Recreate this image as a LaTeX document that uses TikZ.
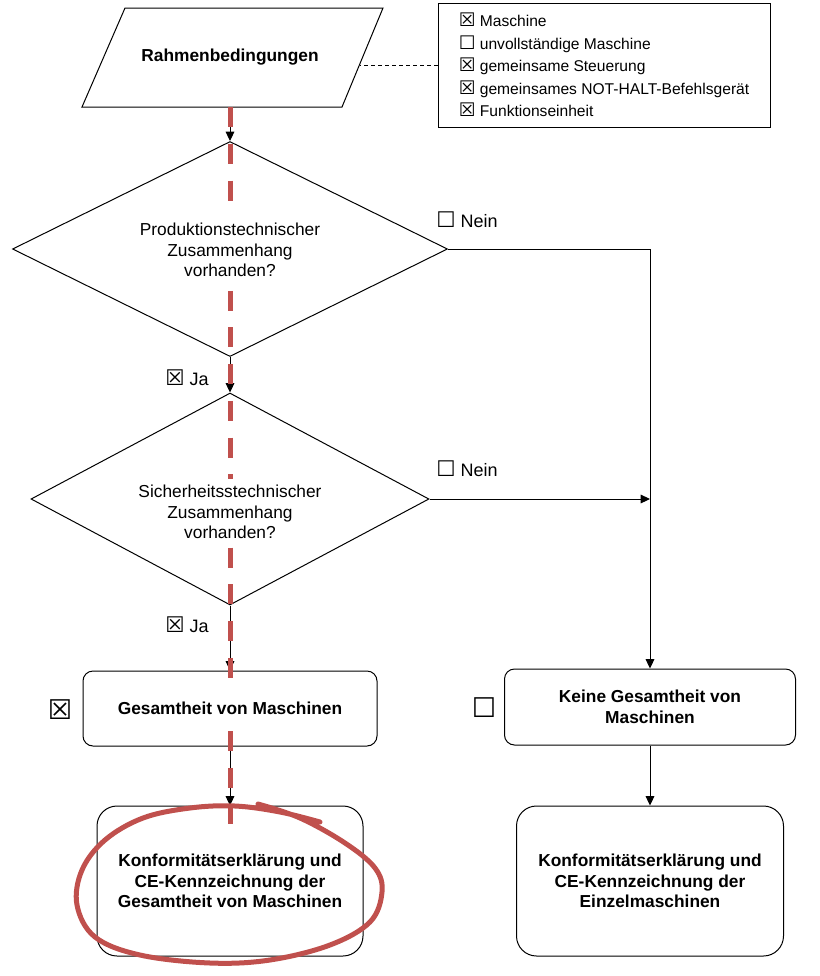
\documentclass[tikz,border=0pt]{standalone}
\usepackage{fontspec}
\setmainfont{Liberation Sans}
\newfontfamily\symfont{DejaVu Sans}
\usetikzlibrary{shapes.geometric,arrows.meta,positioning,calc}

\newlength{\du}
\setlength{\du}{0.75pt}
\newcommand{\chkx}{\scalebox{1.2}{\symfont ☒}}
\newcommand{\chko}{\scalebox{1.2}{\symfont ☐}}

\tikzset{
  outline/.style={draw=black,line width=1\du},
  flowbox/.style={outline,rounded corners=10\du,minimum width=294\du,minimum height=75\du},
  endbox/.style={outline,rounded corners=20\du,minimum width=266\du,minimum height=150\du},
  decision/.style={outline,diamond,inner sep=0pt},
  boldtext/.style={font=\fontsize{13}{15.4}\selectfont\bfseries,align=center},
  boxtext/.style={boldtext,fill=white,inner xsep=2\du,inner ysep=10\du},
  asktext/.style={font=\fontsize{13}{15.4}\selectfont,align=center,fill=white,inner xsep=2\du,inner ysep=6\du},
  answer/.style={font=\fontsize{13.5}{16}\selectfont,anchor=west,inner sep=0pt},
  flow/.style={draw=black,line width=1\du,-{Triangle[length=7pt,width=6.5pt]}},
  redmark/.style={draw=markred,line width=5\du}
}

\begin{document}
\begin{tikzpicture}
\pgftransformyscale{-1.000000}
\definecolor{markred}{RGB}{192,80,77}
\useasboundingbox (0,0) rectangle (819\du,976\du);

% input
\draw[outline] (82\du,107\du)--(125\du,8\du)--(383\du,8\du)--(342\du,107\du)--cycle;
\node[boldtext,minimum width=260\du,minimum height=99\du] (rahmen) at (230\du,57.5\du) {Rahmenbedingungen};

% legend
\node[outline,minimum width=332\du,minimum height=124\du,align=left,font=\fontsize{11.7}{16.9}\selectfont] (legend) at (604\du,65\du) {\chkx\ Maschine\\\chko\ unvollständige Maschine\\\chkx\ gemeinsame Steuerung\\\chkx\ gemeinsames NOT-HALT-Befehlsgerät\\\chkx\ Funktionseinheit};
\draw[outline,dash pattern=on 4\du off 3\du] (legend.west) -- (legend.west -| rahmen.east);

% decisions
\node[decision,minimum width=435\du,minimum height=215\du] (prod) at (230\du,249\du) {};
\node[decision,minimum width=398\du,minimum height=212\du] (sich) at (230\du,499\du) {};

% boxes
\node[flowbox] (gesamt) at (230\du,708.5\du) {};
\node[flowbox,boldtext,minimum width=291\du,minimum height=76\du] (keine) at (650\du,707\du) {Keine Gesamtheit von\\Maschinen};
\node[endbox,boldtext] (konfges) at (230\du,881\du) {Konformitätserklärung und\\CE-Kennzeichnung der\\Gesamtheit von Maschinen};
\node[endbox,boldtext,minimum width=267\du] (konfein) at (650\du,881\du) {Konformitätserklärung und\\CE-Kennzeichnung der\\Einzelmaschinen};

% flow
\draw[flow] (rahmen.south) -- (prod.north);
\draw[flow] (prod.south) -- (sich.north);
\draw[flow] (sich.south) -- (gesamt.north);
\draw[flow] (gesamt.south) -- (konfges.north);
\draw[flow] (prod.east) -| (keine.north);
\draw[flow] (sich.east) -- (sich.east -| keine.north);
\draw[flow] (keine.south) -- (konfein.north);

% answers
\node[answer] (nein1) at (436\du,220\du) {\chko~Nein};
\node[answer] (nein2) at (436\du,469\du) {\chko~Nein};
\node[answer] (ja1) at (165\du,378\du) {\chkx~Ja};
\node[answer] (ja2) at (165\du,625\du) {\chkx~Ja};
\node[font=\fontsize{17}{17}\selectfont,inner sep=0pt] (gesamtchk) at (60\du,710\du) {\chkx};
\node[font=\fontsize{17}{17}\selectfont,inner sep=0pt] (keinechk) at (484\du,708\du) {\chko};

% marking
\coordinate (redend) at ($(konfges.north)+(0,18\du)$);
\draw[redmark,dash pattern=on 20\du off 16.7\du] (rahmen.south) -- (redend);
\draw[redmark,line cap=round] plot[smooth,tension=0.6] coordinates {(258\du,804\du) (300\du,818\du) (345\du,843\du) (375\du,868\du) (382\du,892\du) (370\du,922\du) (330\du,945\du) (270\du,960\du) (210\du,963\du) (140\du,955\du) (95\du,937\du) (77\du,905\du) (82\du,870\du) (105\du,840\du) (143\du,818\du) (190\du,808\du) (235\du,806\du) (280\du,812\du) (320\du,822\du)};

% texts over marking
\node[asktext] (prodtxt) at (230\du,250\du) {Produktionstechnischer\\Zusammenhang\\vorhanden?};
\node[asktext] (sichtxt) at (230\du,512\du) {Sicherheitsstechnischer\\Zusammenhang\\vorhanden?};
\node[boxtext] (gesamttxt) at (gesamt) {Gesamtheit von Maschinen};
\end{tikzpicture}
\end{document}
